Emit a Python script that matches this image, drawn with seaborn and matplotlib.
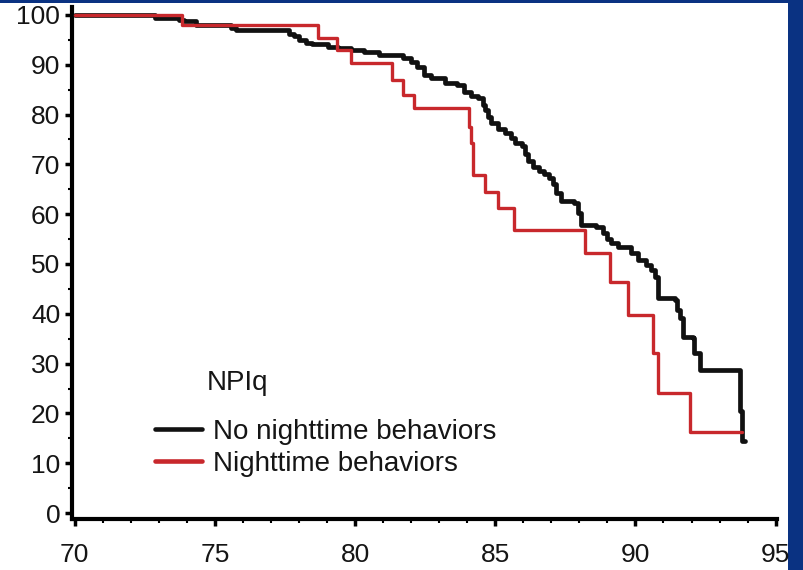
import numpy as np
import pandas as pd
import matplotlib
matplotlib.use("Agg")
import matplotlib.pyplot as plt
from matplotlib.patches import Rectangle
from matplotlib.lines import Line2D
from matplotlib.ticker import MultipleLocator
import seaborn as sns

# ---- data ----
no_night_age = [70.0, 72.85, 73.73, 73.91, 74.34, 75.58, 75.76, 77.65, 77.82, 78.0,
                78.25, 78.45, 79.05, 79.4, 79.85, 80.3, 80.85, 81.7, 82.0, 82.2,
                82.45, 82.7, 83.2, 83.65, 83.9, 84.15, 84.4, 84.55, 84.65, 84.75,
                84.85, 85.1, 85.35, 85.55, 85.7, 85.95, 86.05, 86.15, 86.35, 86.55,
                86.75, 86.9, 87.05, 87.15, 87.35, 87.8, 87.95, 88.05, 88.6, 88.85,
                89.0, 89.13, 89.38, 89.84, 90.1, 90.38, 90.55, 90.7, 90.8, 91.4,
                91.5, 91.6, 91.7, 92.05, 92.1, 92.3, 93.72, 93.8, 93.9]
no_night_surv = [100.0, 99.3, 99.0, 98.7, 98.0, 97.3, 96.9, 96.2, 95.7, 95.0,
                 94.3, 94.1, 93.6, 93.4, 93.0, 92.6, 92.0, 91.3, 90.5, 89.5,
                 88.0, 87.3, 86.3, 85.9, 84.5, 83.8, 83.3, 82.0, 80.9, 79.5,
                 78.3, 77.2, 76.3, 75.2, 74.3, 73.7, 72.0, 70.7, 69.5, 68.7,
                 68.0, 67.3, 66.0, 64.3, 62.7, 62.2, 60.2, 57.8, 57.4, 56.2,
                 55.0, 54.2, 53.4, 52.2, 50.8, 49.8, 48.8, 47.4, 43.2, 42.8,
                 40.8, 39.2, 35.3, 35.1, 32.1, 28.7, 20.5, 14.5, 14.5]

night_age = [70.0, 73.84, 78.68, 79.35, 79.85, 81.3, 81.72, 82.1, 84.05, 84.12,
             84.2, 84.65, 85.1, 85.65, 88.2, 89.1, 89.74, 90.63, 90.8, 91.94, 93.8]
night_surv = [100.0, 98.0, 95.4, 93.0, 90.3, 87.0, 84.0, 81.3, 77.5, 74.3,
              67.8, 64.5, 61.2, 56.8, 52.3, 46.4, 39.8, 32.1, 24.1, 16.3, 16.3]

legend_title = "NPIq"
label_no = "No nighttime behaviors"
label_night = "Nighttime behaviors"
x_ticks = [70, 75, 80, 85, 90, 95]
y_ticks = [0, 10, 20, 30, 40, 50, 60, 70, 80, 90, 100]

df_no = pd.DataFrame({"age": no_night_age, "surv": no_night_surv})
df_night = pd.DataFrame({"age": night_age, "surv": night_surv})

# ---- style ----
sns.set_style("ticks")
plt.rcParams["font.family"] = ["Liberation Sans", "DejaVu Sans"]

W, H = 804, 570
fig = plt.figure(figsize=(W / 100, H / 100), dpi=100)
fig.patch.set_facecolor("#0a3282")
fig.add_artist(Rectangle((0, 0), 788 / W, 567 / H, transform=fig.transFigure,
                         facecolor="white", edgecolor="none", zorder=0))

ax = fig.add_axes([72 / W, 1 - 519 / H, (777 - 72) / W, (519 - 7) / H])
ax.set_facecolor("white")

black = "#111111"
red = "#c8282c"
sns.lineplot(data=df_no, x="age", y="surv", ax=ax, color=black, linewidth=3.4,
             drawstyle="steps-post", estimator=None, sort=False, zorder=3)
sns.lineplot(data=df_night, x="age", y="surv", ax=ax, color=red, linewidth=2.4,
             drawstyle="steps-post", estimator=None, sort=False, zorder=4)

ax.set_xlim(69.9, 95.05)
ax.set_ylim(-1.2, 101.6)
ax.set_xticks(x_ticks)
ax.set_yticks(y_ticks)
ax.xaxis.set_minor_locator(MultipleLocator(1))
ax.yaxis.set_minor_locator(MultipleLocator(5))
ax.set_xlabel("")
ax.set_ylabel("")

for s in ["top", "right"]:
    ax.spines[s].set_visible(False)
for s in ["left", "bottom"]:
    ax.spines[s].set_linewidth(3)
    ax.spines[s].set_color("black")

ax.tick_params(axis="both", which="major", direction="out", length=5, width=2.5,
               color="black", labelsize=19, labelcolor="#151515")
ax.tick_params(axis="both", which="minor", direction="out", length=3, width=1.5,
               color="black")
ax.tick_params(axis="x", which="major", pad=12)
ax.tick_params(axis="y", which="major", pad=3.5)

handles = [Line2D([], [], color=black, linewidth=3.3),
           Line2D([], [], color=red, linewidth=3.3)]
ax.legend(handles, [label_no, label_night], loc="upper left",
          bbox_to_anchor=(155 / W, 1 - 419 / H), bbox_transform=fig.transFigure,
          frameon=False, borderpad=0, borderaxespad=0, handlelength=1.7,
          handletextpad=0.4, labelspacing=0.22, fontsize=20,
          labelcolor="#151515")
fig.text(207 / W, 1 - 390 / H, legend_title, ha="left", va="baseline",
         fontsize=20, color="#151515")

fig.savefig("out.png", dpi=100, facecolor=fig.get_facecolor())
